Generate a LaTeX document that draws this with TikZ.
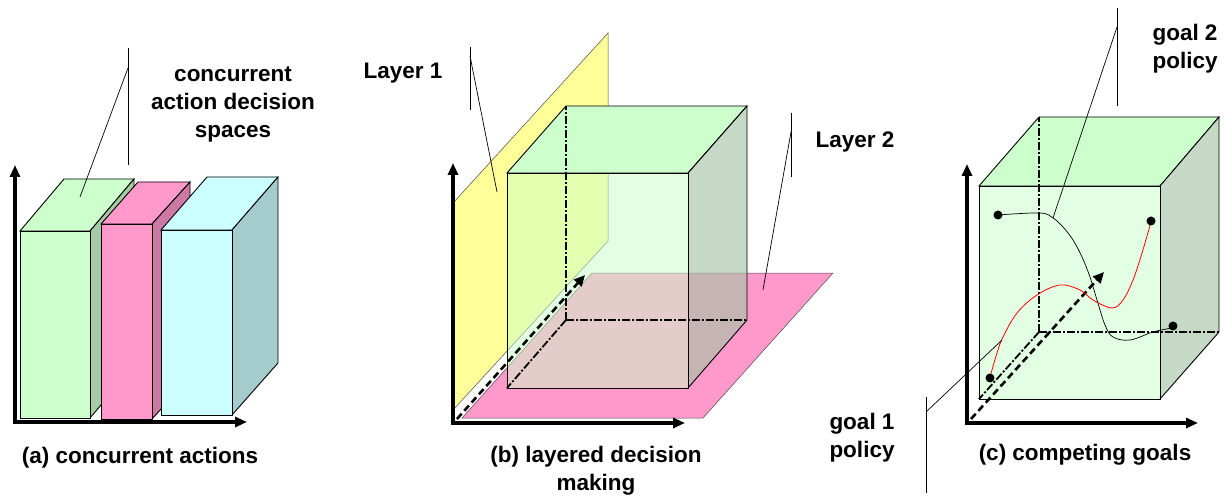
\documentclass[tikz,border=0pt]{standalone}
\usepackage{fontspec}
\setmainfont{Liberation Sans}
\usetikzlibrary{arrows.meta}
\definecolor{gA}{HTML}{CCFFCC}
\definecolor{gS}{HTML}{A5CCA5}
\definecolor{pA}{HTML}{FF99CC}
\definecolor{pS}{HTML}{CC7AA3}
\definecolor{cA}{HTML}{CCFFFF}
\definecolor{cS}{HTML}{A5CCCC}
\definecolor{yA}{HTML}{FFFF99}
\definecolor{cubeF}{HTML}{C8FFC8}
\definecolor{cubeS}{HTML}{A8C4A8}
\definecolor{cubeF2}{HTML}{E3FFE3}
\definecolor{cubeS2}{HTML}{C6D9C6}
\begin{document}
\begin{tikzpicture}[x=1pt,y=-1pt,
  edge/.style={draw=black, line width=0.9pt},
  plane/.style={draw=black!70, line width=0.5pt},
  hidden/.style={line width=1.8pt, dash pattern=on 8pt off 2pt on 2pt off 2pt},
  axis/.style={line width=3.4pt, line cap=rect, -{Triangle[length=12pt,width=10pt]}},
  darrow/.style={line width=2.6pt, dash pattern=on 7pt off 4pt, -{Triangle[length=11pt,width=10pt]}},
  leader/.style={line width=0.7pt},
  lbl/.style={font=\bfseries\fontsize{22.5}{28}\selectfont, align=center, inner sep=0pt},
  dot/.style={circle, fill=black, inner sep=0pt, minimum size=9pt}]
\useasboundingbox (0,0) rectangle (1226,497);

% ---------------- panel (a) ----------------
\filldraw[edge, fill=gA] (20,231) -- (64,179) -- (134,179) -- (90,231) -- cycle;
\filldraw[edge, fill=gS] (90,231) -- (134,179) -- (134,366) -- (90,418) -- cycle;
\filldraw[edge, fill=gA] (20,231) rectangle (90,418);
\filldraw[edge, fill=pA] (101,224) -- (138,182) -- (190,182) -- (152,224) -- cycle;
\filldraw[edge, fill=pS] (152,224) -- (190,182) -- (190,377) -- (152,419) -- cycle;
\filldraw[edge, fill=pA] (101,224) rectangle (152,419);
\filldraw[edge, fill=cA] (161,230) -- (207,177) -- (278,177) -- (232,230) -- cycle;
\filldraw[edge, fill=cS] (232,230) -- (278,177) -- (278,363) -- (232,415) -- cycle;
\filldraw[edge, fill=cA] (161,230) rectangle (232,415);
\coordinate (aO) at (15,422);
\coordinate (aY) at (15,165);
\coordinate (aX) at (247,422);
\draw[axis] (aO) -- (aY);
\draw[axis] (aO) -- (aX);
\node[lbl] (tA) at (233,104) {concurrent\\action decision\\spaces};
\coordinate (aL1) at (128,48);
\coordinate (aL2) at (128,165);
\coordinate (aL3) at (128,68);
\coordinate (aL4) at (80,197);
\draw[leader] (aL1) -- (aL2);
\draw[leader] (aL3) -- (aL4);
\node[lbl] (capA) at (140,458) {(a) concurrent actions};

% ---------------- panel (b) ----------------
\filldraw[plane, fill=yA] (453,410) -- (453,203) -- (608,33) -- (608,241) -- cycle;
\filldraw[plane, fill=pA] (462,418) -- (592,273) -- (833,273) -- (703,418) -- cycle;
\filldraw[edge, fill=gA] (507,173) -- (566,106) -- (747,106) -- (688,173) -- cycle;
\fill[cubeF, opacity=0.5] (507,173) rectangle (688,388);
\fill[cubeS, opacity=0.65] (688,173) -- (747,106) -- (747,320) -- (688,388) -- cycle;
\coordinate (bB) at (566,320);
\coordinate (bBt) at (566,106);
\coordinate (bBr) at (747,320);
\coordinate (bBf) at (507,388);
\draw[hidden] (bB) -- (bBt);
\draw[hidden] (bB) -- (bBr);
\draw[hidden] (bB) -- (bBf);
\coordinate (bO2) at (457,419);
\coordinate (bT) at (585,275);
\draw[darrow] (bO2) -- (bT);
\draw[edge] (507,173) rectangle (688,388);
\draw[edge] (688,173) -- (747,106) -- (747,320) -- (688,388);
\coordinate (bO) at (453,423);
\coordinate (bY) at (453,163);
\coordinate (bX) at (685,423);
\draw[axis] (bO) -- (bY);
\draw[axis] (bO) -- (bX);
\node[lbl] (l1) at (403,73) {Layer 1};
\coordinate (bL1) at (470,47);
\coordinate (bL2) at (470,110);
\coordinate (bL3) at (470,56);
\coordinate (bL4) at (497,192);
\draw[leader] (bL1) -- (bL2);
\draw[leader] (bL3) -- (bL4);
\node[lbl] (l2) at (855,142) {Layer 2};
\coordinate (bM1) at (791,113);
\coordinate (bM2) at (791,177);
\coordinate (bM3) at (791,132);
\coordinate (bM4) at (763,290);
\draw[leader] (bM1) -- (bM2);
\draw[leader] (bM3) -- (bM4);
\node[lbl] (capB) at (596,471) {(b) layered decision\\making};

% ---------------- panel (c) ----------------
\filldraw[edge, fill=gA] (979,186) -- (1039,117) -- (1219,117) -- (1160,186) -- cycle;
\fill[cubeF2] (979,186) rectangle (1160,399);
\fill[cubeS2] (1160,186) -- (1219,117) -- (1219,332) -- (1160,399) -- cycle;
\coordinate (cB) at (1039,332);
\coordinate (cBt) at (1039,117);
\coordinate (cBr) at (1219,332);
\coordinate (cBf) at (979,399);
\draw[hidden] (cB) -- (cBt);
\draw[hidden] (cB) -- (cBr);
\draw[hidden] (cB) -- (cBf);
\coordinate (cO2) at (971,419);
\coordinate (cT) at (1104,272);
\draw[darrow] (cO2) -- (cT);
\draw[edge] (979,186) rectangle (1160,399);
\draw[edge] (1160,186) -- (1219,117) -- (1219,332) -- (1160,399);
\draw[line width=0.7pt, black] plot[smooth, tension=0.6] coordinates {(998,215) (1040,213) (1053,218) (1063,227) (1073,240) (1082,257) (1090,277) (1097,300) (1105,325) (1113,337) (1130,340) (1153,332) (1172,328)};
\draw[line width=0.8pt, red] plot[smooth, tension=0.6] coordinates {(990,377) (997,353) (1003,337) (1017,313) (1037,295) (1060,285) (1080,290) (1093,300) (1112,308) (1123,300) (1133,280) (1142,253) (1151,222)};
\node[dot] (d1) at (998,215) {};
\node[dot] (d2) at (1173,326) {};
\node[dot] (d3) at (990,378) {};
\node[dot] (d4) at (1151,221) {};
\coordinate (cO) at (967,423);
\coordinate (cY) at (967,164);
\coordinate (cX) at (1198,423);
\draw[axis] (cO) -- (cY);
\draw[axis] (cO) -- (cX);
\node[lbl] (g2) at (1185,49) {goal 2\\policy};
\coordinate (cL1) at (1117,8);
\coordinate (cL2) at (1117,106);
\coordinate (cL3) at (1117,27);
\coordinate (cL4) at (1053,218);
\draw[leader] (cL1) -- (cL2);
\draw[leader] (cL3) -- (cL4);
\node[lbl] (g1) at (862,438) {goal 1\\policy};
\coordinate (cM1) at (926,397);
\coordinate (cM2) at (926,493);
\coordinate (cM3) at (926,412);
\coordinate (cM4) at (1002,340);
\draw[leader] (cM1) -- (cM2);
\draw[leader] (cM3) -- (cM4);
\node[lbl] (capC) at (1085,455) {(c) competing goals};
\end{tikzpicture}
\end{document}
